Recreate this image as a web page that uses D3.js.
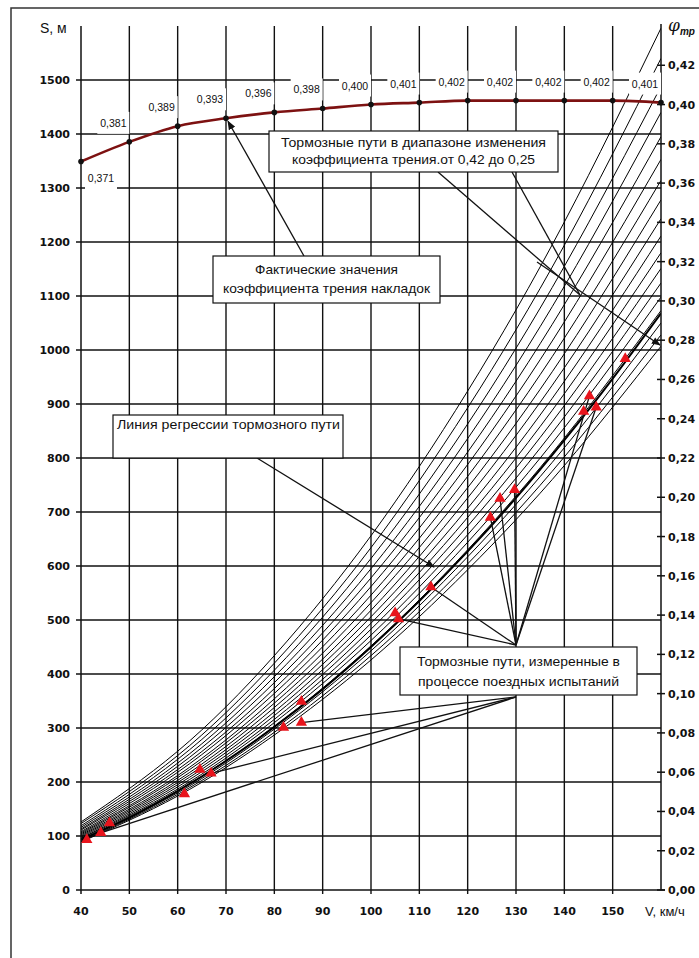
<!DOCTYPE html>
<html>
<head>
<meta charset="utf-8">
<script src="https://cdn.jsdelivr.net/npm/d3@7"></script>
<style>
  body { margin: 0; background: #fff; }
  text { font-family: "Liberation Sans", Arial, sans-serif; fill: #111; }
  .tick-label { font-family: "DejaVu Sans", sans-serif; font-weight: bold; font-size: 11px; }
  .note { font-size: 13px; }
</style>
</head>
<body>
<svg id="chart" width="699" height="958"></svg>
<script>
// Data
const speeds = [40, 50, 60, 70, 80, 90, 100, 110, 120, 130, 140, 150, 160];
const frictionActual = [0.371, 0.381, 0.389, 0.393, 0.396, 0.398, 0.4, 0.401, 0.402, 0.402, 0.402, 0.402, 0.401];
const regressionDistance = [93, 134, 183, 239, 302, 372, 450, 535, 627, 726, 833, 947, 1068];

// braking distance curves for friction 0.42 ... 0.25
const bandSpeeds = [40, 60, 80, 100, 120, 140, 160];
const bandCoeffs = [0.42, 0.41, 0.4, 0.39, 0.38, 0.37, 0.36, 0.35, 0.34, 0.33, 0.32, 0.31, 0.3, 0.29, 0.28, 0.27, 0.26, 0.25];
const bandDistances = [
  [89, 174, 287, 426, 593, 786, 1007],
  [90, 177, 292, 434, 604, 802, 1028],
  [92, 180, 298, 443, 617, 819, 1050],
  [93, 184, 303, 452, 630, 837, 1073],
  [95, 187, 310, 462, 644, 856, 1098],
  [96, 191, 316, 472, 658, 876, 1124],
  [98, 195, 323, 483, 674, 897, 1151],
  [100, 199, 330, 494, 690, 919, 1180],
  [102, 203, 338, 506, 707, 942, 1211],
  [104, 208, 346, 518, 726, 967, 1243],
  [106, 212, 354, 532, 745, 993, 1278],
  [108, 218, 364, 546, 766, 1022, 1314],
  [111, 223, 373, 562, 788, 1052, 1353],
  [113, 229, 384, 578, 811, 1084, 1395],
  [116, 235, 395, 595, 836, 1118, 1440],
  [119, 242, 407, 614, 863, 1155, 1488],
  [123, 249, 420, 634, 893, 1194, 1540],
  [126, 257, 434, 656, 924, 1237, 1596],
];

// measured during train tests
const measuredSpeed = [41.2, 44.1, 45.9, 61.4, 64.6, 66.9, 81.9, 85.6, 85.6, 105.0, 105.7, 112.4, 124.7, 126.7, 129.7, 144.0, 145.2, 146.6, 152.6];
const measuredDistance = [93, 106, 124, 178, 223, 216, 301, 310, 349, 513, 502, 561, 690, 725, 741, 886, 915, 894, 984];

// Tick labels
const speedTicks = [40, 50, 60, 70, 80, 90, 100, 110, 120, 130, 140, 150];
const distanceTicks = [0, 100, 200, 300, 400, 500, 600, 700, 800, 900, 1000, 1100, 1200, 1300, 1400, 1500];
const frictionTicks = [0, 0.02, 0.04, 0.06, 0.08, 0.1, 0.12, 0.14, 0.16, 0.18, 0.2, 0.22, 0.24, 0.26, 0.28, 0.3, 0.32, 0.34, 0.36, 0.38, 0.4, 0.42];

// Layout config
const plot = { left: 81, right: 661, top: 26, bottom: 890 };
const comma = (f) => (v) => f(v).replace(".", ",");
const fmt2 = comma(d3.format(".2f"));
const fmt3 = comma(d3.format(".3f"));

const svg = d3.select("#chart");

// outer frame
svg.append("rect")
  .attr("x", 11).attr("y", 8)
  .attr("width", 720).attr("height", 980)
  .attr("fill", "none").attr("stroke", "#333").attr("stroke-width", 1.5);

const x = d3.scaleLinear().domain([40, 160]).range([plot.left, plot.right]);
const y = d3.scaleLinear().domain([0, 1600]).range([plot.bottom, plot.top]);
const yR = d3.scaleLinear().domain([0, 0.44]).range([plot.bottom, plot.top]);

svg.append("defs").append("clipPath").attr("id", "clip")
  .append("rect")
  .attr("x", plot.left).attr("y", plot.top)
  .attr("width", plot.right - plot.left).attr("height", plot.bottom - plot.top);

// Grid
const grid = svg.append("g").attr("stroke", "#111").attr("stroke-width", 1.4);
grid.selectAll("line.h")
  .data(distanceTicks.filter((d) => d > 0))
  .join("line")
  .attr("x1", plot.left - 5).attr("x2", plot.right)
  .attr("y1", (d) => y(d)).attr("y2", (d) => y(d));
grid.selectAll("line.v")
  .data(speedTicks.filter((d) => d > 40))
  .join("line")
  .attr("x1", (d) => x(d)).attr("x2", (d) => x(d))
  .attr("y1", plot.top).attr("y2", plot.bottom + 4);

// Band of braking distances
const bandLine = d3.line()
  .x((d, i) => x(bandSpeeds[i]))
  .y((d) => y(d))
  .curve(d3.curveNatural);
svg.append("g")
  .attr("clip-path", "url(#clip)")
  .selectAll("path")
  .data(bandDistances)
  .join("path")
  .attr("fill", "none")
  .attr("stroke", "#000")
  .attr("stroke-width", 1)
  .attr("d", bandLine);

// Regression line
svg.append("path")
  .datum(regressionDistance)
  .attr("clip-path", "url(#clip)")
  .attr("fill", "none")
  .attr("stroke", "#000")
  .attr("stroke-width", 2)
  .attr("d", d3.line().x((d, i) => x(speeds[i])).y((d) => y(d)).curve(d3.curveNatural));

// Axes
const axes = svg.append("g").attr("stroke", "#111").attr("stroke-width", 1.5);
axes.append("line").attr("x1", plot.left).attr("x2", plot.left).attr("y1", plot.top).attr("y2", plot.bottom);
axes.append("line").attr("x1", plot.left - 5).attr("x2", plot.right + 4).attr("y1", plot.bottom).attr("y2", plot.bottom);
axes.append("line").attr("x1", plot.right).attr("x2", plot.right).attr("y1", plot.top - 2).attr("y2", plot.bottom);
axes.append("line").attr("x1", plot.left).attr("x2", plot.left).attr("y1", plot.bottom).attr("y2", plot.bottom + 4);
axes.selectAll("line.rt")
  .data(frictionTicks)
  .join("line")
  .attr("x1", plot.right - 4).attr("x2", plot.right + 4)
  .attr("y1", (d) => yR(d)).attr("y2", (d) => yR(d));

svg.append("g").selectAll("text")
  .data(distanceTicks)
  .join("text")
  .attr("class", "tick-label")
  .attr("x", plot.left - 11)
  .attr("y", (d) => y(d) + 4)
  .attr("text-anchor", "end")
  .text((d) => d);

svg.append("g").selectAll("text")
  .data(speedTicks)
  .join("text")
  .attr("class", "tick-label")
  .attr("x", (d) => x(d))
  .attr("y", plot.bottom + 25)
  .attr("text-anchor", "middle")
  .text((d) => d);

svg.append("g").selectAll("text")
  .data(frictionTicks)
  .join("text")
  .attr("class", "tick-label")
  .attr("x", plot.right + 7)
  .attr("y", (d) => yR(d) + 4)
  .text((d) => fmt2(d));

svg.append("text").attr("x", 40).attr("y", 33).attr("font-size", 14).text("S, м");
svg.append("text").attr("x", 645).attr("y", plot.bottom + 26).attr("font-size", 13).text("V, км/ч");
const phi = svg.append("text").attr("x", 668).attr("y", 31).attr("font-style", "italic");
phi.append("tspan").attr("font-size", 17).attr("font-family", "DejaVu Serif, serif").text("φ");
phi.append("tspan").attr("font-size", 10).attr("font-weight", "bold").attr("dy", 4).text("тр");

// Actual friction coefficient curve
const phiPoints = speeds.map((v, i) => [x(v), yR(frictionActual[i])]);
svg.append("path")
  .datum(phiPoints)
  .attr("fill", "none")
  .attr("stroke", "#7d1111")
  .attr("stroke-width", 2.6)
  .attr("d", d3.line().curve(d3.curveMonotoneX));
svg.append("g").selectAll("circle")
  .data(phiPoints)
  .join("circle")
  .attr("cx", (d) => d[0]).attr("cy", (d) => d[1])
  .attr("r", 2.8).attr("fill", "#111");

const labels = svg.append("g").selectAll("g")
  .data(speeds.map((v, i) => ({ v, f: frictionActual[i], first: i === 0 })))
  .join("g")
  .attr("transform", (d) =>
    `translate(${x(d.v) + (d.first ? 20 : -16)},${yR(d.f) + (d.first ? 17 : -19)})`);
labels.append("rect")
  .attr("x", -16).attr("y", -11).attr("width", 32).attr("height", 22)
  .attr("fill", "#fff");
labels.append("text")
  .attr("text-anchor", "middle").attr("dy", 4)
  .attr("font-size", 10.5)
  .text((d) => fmt3(d.f));

// Callouts
function note(x0, y0, w, h, lines, lh, firstY) {
  const g = svg.append("g");
  g.append("rect").attr("x", x0).attr("y", y0).attr("width", w).attr("height", h)
    .attr("fill", "#fff").attr("stroke", "#111").attr("stroke-width", 1.2);
  lines.forEach((l, i) => {
    g.append("text").attr("class", "note")
      .attr("x", x0 + w / 2).attr("y", y0 + firstY + i * lh)
      .attr("text-anchor", "middle")
      .attr("textLength", l[1]).attr("lengthAdjust", "spacingAndGlyphs")
      .text(l[0]);
  });
}
function pointer(p0, p1, arrow) {
  svg.append("line").attr("x1", p0[0]).attr("y1", p0[1]).attr("x2", p1[0]).attr("y2", p1[1])
    .attr("stroke", "#111").attr("stroke-width", 1.3)
    .attr("marker-end", arrow ? "url(#arrow)" : null);
}
svg.select("defs").append("marker")
  .attr("id", "arrow").attr("viewBox", "0 0 10 10")
  .attr("refX", 9).attr("refY", 5)
  .attr("markerWidth", 7).attr("markerHeight", 7)
  .attr("orient", "auto")
  .append("path").attr("d", "M0,1L10,5L0,9z").attr("fill", "#111");

// actual friction
pointer([304, 256], [x(70) + 2, yR(frictionActual[3]) + 3], true);
note(213, 256, 227, 47, [["Фактические значения", 143], ["коэффициента трения накладок", 207]], 19, 18);

// range of friction
pointer([537, 262], [660, 345], true);
pointer([438, 172], [580, 295], false);
pointer([512, 172], [580, 295], false);
note(269, 131, 289, 41, [["Тормозные пути в диапазоне изменения", 265], ["коэффициента трения.от 0,42 до 0,25", 243]], 17, 16);

// regression
pointer([257, 458], [434, 567], true);
svg.append("rect").attr("x", 113).attr("y", 415).attr("width", 230).attr("height", 43)
  .attr("fill", "#fff").attr("stroke", "#111").attr("stroke-width", 1.2);
svg.append("text").attr("class", "note").attr("x", 117).attr("y", 429)
  .attr("textLength", 223).attr("lengthAdjust", "spacingAndGlyphs")
  .text("Линия регрессии тормозного пути");

// measured points
const upperTargets = [10, 11, 12, 13, 14, 16, 17];
const lowerTargets = [1, 5, 7];
upperTargets.forEach((i) => pointer([516, 645], [x(measuredSpeed[i]), y(measuredDistance[i])], false));
lowerTargets.forEach((i) => pointer([516, 697], [x(measuredSpeed[i]), y(measuredDistance[i])], false));
note(400, 647, 237, 48, [["Тормозные пути, измеренные в", 203], ["процессе поездных испытаний", 201]], 20, 19);

svg.append("g").selectAll("path")
  .data(measuredSpeed.map((v, i) => [x(v), y(measuredDistance[i])]))
  .join("path")
  .attr("transform", (d) => `translate(${d[0]},${d[1]})`)
  .attr("d", d3.symbol(d3.symbolTriangle, 55))
  .attr("fill", "#e8141c");
</script>
</body>
</html>
